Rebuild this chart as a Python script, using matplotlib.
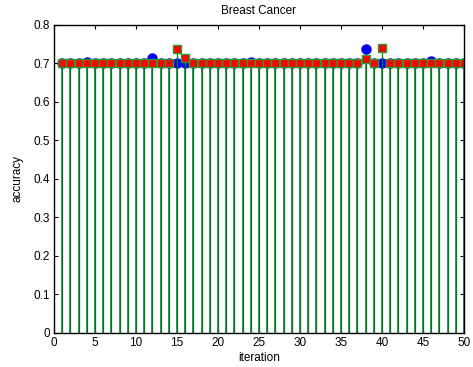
import numpy as np
import matplotlib.pyplot as plt

plt.rcParams['font.family'] = ['Liberation Sans', 'DejaVu Sans']

iteration = np.arange(1, 51)

# accuracy of the two runs (blue circles, red squares)
acc_blue = [0.70] * 50
acc_red = [0.70] * 50
for i, v in {4: 0.703, 12: 0.715, 24: 0.705, 38: 0.737, 46: 0.706}.items():
    acc_blue[i - 1] = v
for i, v in {15: 0.737, 16: 0.715, 38: 0.711, 40: 0.740}.items():
    acc_red[i - 1] = v

fig = plt.figure(figsize=(4.73, 3.67), dpi=100)
ax = fig.add_axes([0.114, 0.093, 0.867, 0.839])

m1, s1, b1 = ax.stem(iteration, acc_blue, linefmt='-', markerfmt='o', basefmt=' ')
s1.set_color('#3d7b82')
s1.set_linewidth(1.3)
m1.set_color('blue')
m1.set_markersize(6.5)

m2, s2, b2 = ax.stem(iteration, acc_red, linefmt='-', markerfmt='s', basefmt=' ')
s2.set_color('green')
s2.set_linewidth(0.9)
m2.set_markerfacecolor('red')
m2.set_markeredgecolor('#2a9a2a')
m2.set_markeredgewidth(1.0)
m2.set_markersize(5.8)

ax.set_xlim(0, 50)
ax.set_ylim(0, 0.8)
ax.set_xticks(np.arange(0, 51, 5))
ax.set_yticks(np.arange(0, 0.81, 0.1))
ax.set_yticklabels(['0', '0.1', '0.2', '0.3', '0.4', '0.5', '0.6', '0.7', '0.8'])
ax.tick_params(direction='in', top=True, right=True, labelsize=8.5, length=3, pad=3)
for sp in ax.spines.values():
    sp.set_linewidth(1.0)

ax.set_xlabel('iteration', fontsize=8.5, labelpad=2)
ax.set_ylabel('accuracy', fontsize=8.5, labelpad=7)
ax.set_title('Breast Cancer', fontsize=8.5, pad=8)

fig.savefig('out.png', dpi=100)
